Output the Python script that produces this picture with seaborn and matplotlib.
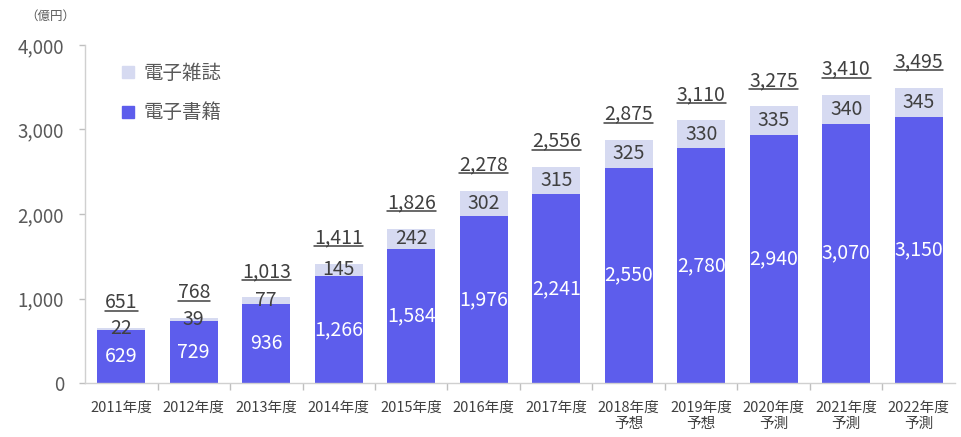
import matplotlib
matplotlib.use("Agg")
import matplotlib.pyplot as plt
from matplotlib.lines import Line2D
from matplotlib.ticker import FuncFormatter, FixedLocator
import seaborn as sns
import pandas as pd

# 電子書籍・電子雑誌の市場規模（億円）
years = ["2011年度", "2012年度", "2013年度", "2014年度", "2015年度", "2016年度",
         "2017年度", "2018年度\n予想", "2019年度\n予想", "2020年度\n予測",
         "2021年度\n予測", "2022年度\n予測"]
ebooks = [629, 729, 936, 1266, 1584, 1976, 2241, 2550, 2780, 2940, 3070, 3150]
emagazines = [22, 39, 77, 145, 242, 302, 315, 325, 330, 335, 340, 345]
y_ticks = [0, 1000, 2000, 3000, 4000]

BOOK_COLOR = "#5D5DEC"
MAG_COLOR = "#D6DAF1"
TEXT_DARK = "#404040"
TEXT_GRAY = "#595959"
AXIS_GRAY = "#D0D0D0"

df = pd.DataFrame({"year": years, "book": ebooks, "mag": emagazines})
df["total"] = df["book"] + df["mag"]

sns.set_theme(style="white")
plt.rcParams["font.family"] = ["Noto Sans CJK JP", "DejaVu Sans"]

fig = plt.figure(figsize=(9.62, 4.37), dpi=100)
ax = fig.add_axes([85 / 962, 1 - 383 / 437, 870 / 962, (383 - 45) / 437])

# stacked bars: full total in light colour, e-book part over it
sns.barplot(data=df, x="year", y="total", color=MAG_COLOR, saturation=1,
            width=0.66, linewidth=0, ax=ax)
sns.barplot(data=df, x="year", y="book", color=BOOK_COLOR, saturation=1,
            width=0.66, linewidth=0, ax=ax)

ax.set_ylim(0, 4000)
ax.set_xlim(-0.5, len(years) - 0.5)
ax.set_xlabel("")
ax.set_ylabel("")

ax.yaxis.set_major_locator(FixedLocator(y_ticks))
ax.yaxis.set_major_formatter(FuncFormatter(lambda v, p: f"{int(v):,}"))
ax.tick_params(axis="y", length=4, width=1, color="#BFBFBF", pad=11,
               labelsize=13.5, labelcolor=TEXT_GRAY, left=True)
ax.tick_params(axis="x", which="major", length=0, pad=13,
               labelsize=10.5, labelcolor=TEXT_DARK)
ax.set_xticks([i + 0.5 for i in range(len(years) - 1)], minor=True)
ax.tick_params(axis="x", which="minor", length=5, width=1, color="#BFBFBF",
               direction="out", bottom=True)
for lbl in ax.get_xticklabels():
    lbl.set_linespacing(1.2)

for side in ("top", "right"):
    ax.spines[side].set_visible(False)
for side in ("left", "bottom"):
    ax.spines[side].set_color(AXIS_GRAY)
    ax.spines[side].set_linewidth(1)
ax.grid(False)

# value labels
total_texts = []
for i, row in df.iterrows():
    ax.text(i, row["book"] / 2, f"{row['book']:,}", ha="center", va="center",
            color="white", fontsize=14)
    ax.text(i, row["book"] + row["mag"] / 2, f"{row['mag']:,}", ha="center",
            va="center", color=TEXT_DARK, fontsize=14)
    t = ax.annotate(f"{row['total']:,}", xy=(i, row["total"]),
                    xytext=(0, 11), textcoords="offset points",
                    ha="center", va="bottom", color=TEXT_DARK, fontsize=14)
    total_texts.append(t)

# legend
handles = [
    Line2D([], [], marker="s", linestyle="", markersize=8,
           markerfacecolor=MAG_COLOR, markeredgecolor=MAG_COLOR, label="電子雑誌"),
    Line2D([], [], marker="s", linestyle="", markersize=8,
           markerfacecolor=BOOK_COLOR, markeredgecolor=BOOK_COLOR, label="電子書籍"),
]
leg = ax.legend(handles=handles, loc="upper left", frameon=False,
                bbox_to_anchor=(122 / 962, 1 - 63 / 437),
                bbox_transform=fig.transFigure, fontsize=14,
                handlelength=0.6, handletextpad=0.5, labelspacing=0.95,
                borderpad=0, borderaxespad=0)
for txt in leg.get_texts():
    txt.set_color(TEXT_GRAY)

fig.text(25 / 962, 1 - 16 / 437, "（億円）", fontsize=9, color=TEXT_GRAY,
         ha="left", va="center")

# underline the totals
fig.canvas.draw()
renderer = fig.canvas.get_renderer()
for t in total_texts:
    bb = t.get_window_extent(renderer)
    yy = bb.y0 + 2
    fig.add_artist(Line2D([bb.x0, bb.x1], [yy, yy], color=TEXT_DARK,
                          linewidth=1.1, transform=None))

fig.savefig("out.png", dpi=100, facecolor="white")
